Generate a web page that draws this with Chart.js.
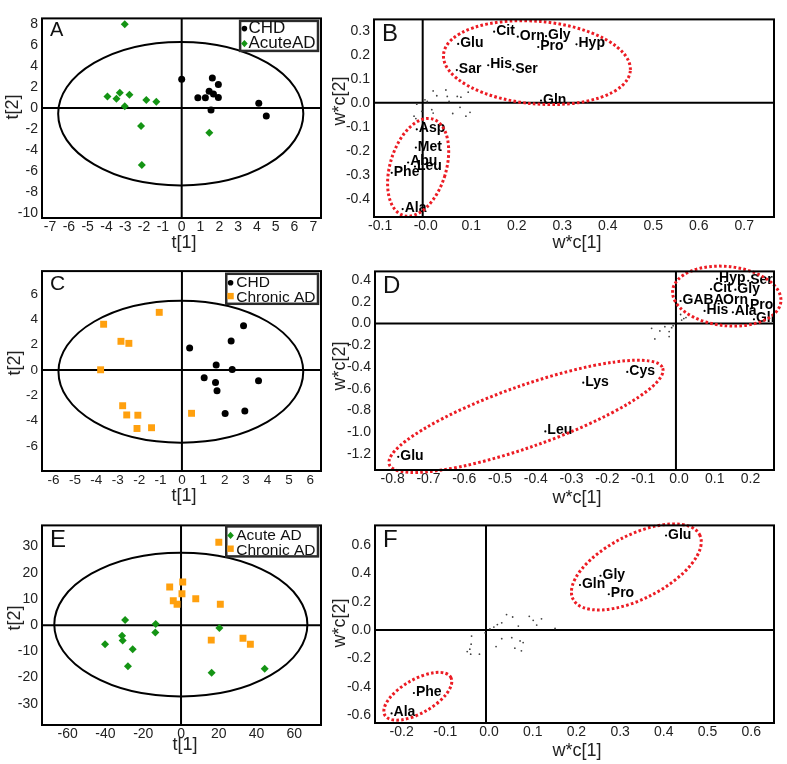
<!DOCTYPE html>
<html>
<head>
<meta charset="utf-8">
<script src="https://cdn.jsdelivr.net/npm/chart.js@4.4.0/dist/chart.umd.min.js"></script>
<style>
  body { margin: 0; background: #fff; width: 787px; height: 764px; overflow: hidden; position: relative; }
  canvas { position: absolute; }
</style>
</head>
<body>
<script>
// ---------- data ----------
// A: scores, CHD vs Acute AD
const A_CHD = [[0, 2.74], [1.63, 2.87], [1.95, 2.24], [1.46, 1.61], [1.69, 1.33], [1.95, 1.02], [0.86, 0.99], [1.26, 0.99], [1.56, -0.18], [4.1, 0.45], [4.5, -0.74]];
const A_ACUTE = [[-3.03, 7.97], [-3.95, 1.11], [-3.29, 1.46], [-3.47, 0.89], [-2.78, 1.27], [-3.03, 0.17], [-1.88, 0.76], [-1.35, 0.61], [-2.16, -1.71], [1.47, -2.34], [-2.12, -5.4]];
const A_T2 = [-0.05, -0.53, 6.52, 6.82];
const A_XTICKS = [-7, -6, -5, -4, -3, -2, -1, 0, 1, 2, 3, 4, 5, 6, 7];
const A_YTICKS = [8, 6, 4, 2, 0, -2, -4, -6, -8, -10];

// B: loadings for A
const B_NAMES = ['Glu', 'Cit', 'Orn', 'Gly', 'Pro', 'Hyp', 'Sar', 'His', 'Ser', 'Gln', 'Asp', 'Met', 'Abu', 'Leu', 'Phe', 'Ala'];
const B_X = [0.078, 0.157, 0.209, 0.271, 0.254, 0.338, 0.075, 0.144, 0.199, 0.260, -0.013, -0.015, -0.032, -0.017, -0.068, -0.044];
const B_Y = [0.245, 0.296, 0.275, 0.277, 0.232, 0.243, 0.136, 0.156, 0.138, 0.009, -0.111, -0.187, -0.249, -0.266, -0.292, -0.443];
const B_MINOR = [[0.023, 0.049], [0.031, 0.029], [0.051, 0.053], [0.054, 0.026], [0.076, 0.026], [0.084, 0.023], [0.100, 0.044], [0.005, 0.012], [0.010, 0.005], [-0.013, -0.006], [-0.002, -0.036], [-0.019, -0.056], [-0.015, -0.066], [0.020, -0.029], [0.023, -0.043], [0.066, -0.045], [0.082, -0.019], [0.095, -0.056], [0.104, -0.040], [0.058, 0.005]];
const B_GROUPS = [[0.251, 0.167, 0.206, 0.172, 5], [-0.010, -0.269, 0.0615, 0.21, 17]];
const B_XTICKS = [-0.1, 0, 0.1, 0.2, 0.3, 0.4, 0.5, 0.6, 0.7];
const B_XLABELS = ['-0.1', '-0.0', '0.1', '0.2', '0.3', '0.4', '0.5', '0.6', '0.7'];
const B_YTICKS = [0.3, 0.2, 0.1, 0, -0.1, -0.2, -0.3, -0.4];

// C: scores, CHD vs Chronic AD
const C_CHD = [[2.88, 3.50], [2.30, 2.29], [0.36, 1.75], [1.60, 0.39], [2.35, 0.05], [1.04, -0.60], [1.57, -0.99], [1.64, -1.64], [3.58, -0.84], [2.94, -3.23], [2.02, -3.44]];
const C_CHRONIC = [[-1.06, 4.56], [-3.66, 3.62], [-2.85, 2.27], [-2.48, 2.11], [-3.80, 0.02], [-2.77, -2.82], [-2.58, -3.55], [-2.06, -3.57], [-2.10, -4.62], [-1.42, -4.56], [0.45, -3.42]];
const C_T2 = [-0.05, -0.13, 5.72, 5.61];
const C_XTICKS = [-6, -5, -4, -3, -2, -1, 0, 1, 2, 3, 4, 5, 6];
const C_YTICKS = [6, 4, 2, 0, -2, -4, -6];

// D: loadings for C
const D_NAMES = ['Hyp', 'Ser', 'Cit', 'Gly', 'GABA', 'Orn', 'Pro', 'His', 'Ala', 'Gln', 'Cys', 'Lys', 'Leu', 'Glu'];
const D_X = [0.115, 0.202, 0.098, 0.166, 0.013, 0.126, 0.201, 0.080, 0.159, 0.218, -0.136, -0.259, -0.365, -0.776];
const D_Y = [0.41, 0.392, 0.315, 0.31, 0.206, 0.206, 0.161, 0.115, 0.102, 0.038, -0.445, -0.544, -0.992, -1.225];
const D_MINOR = [[-0.068, -0.045], [-0.045, -0.069], [-0.031, -0.030], [-0.019, -0.075], [-0.012, -0.039], [-0.059, -0.142], [-0.019, -0.121], [-0.008, -0.021], [0.016, 0.031], [0.022, 0.045], [0.013, 0.082], [0.028, 0.054]];
const D_GROUPS = [[-0.419, -0.853, 0.405, 0.281, -19.4], [0.142, 0.251, 0.152, 0.272, 6]];
const D_XTICKS = [-0.8, -0.7, -0.6, -0.5, -0.4, -0.3, -0.2, -0.1, 0, 0.1, 0.2];
const D_YTICKS = [0.4, 0.2, 0, -0.2, -0.4, -0.6, -0.8, -1.0, -1.2];

// E: scores, Acute AD vs Chronic AD
const E_ACUTE = [[-29.6, 2.0], [-13.4, 0.5], [-13.6, -2.8], [-31.2, -4.0], [-30.9, -5.8], [-40.2, -7.3], [-25.6, -9.2], [-28.1, -15.7], [20.3, -1.1], [16.2, -18.2], [44.3, -16.6]];
const E_CHRONIC = [[20.0, 31.7], [0.9, 16.5], [-6.0, 14.6], [0.5, 12.0], [-4.1, 9.3], [-2.1, 8.0], [7.8, 10.1], [20.8, 8.0], [16.0, -5.7], [32.8, -5.0], [36.7, -7.3]];
const E_T2 = [-0.1, 0.25, 67, 27.45];
const E_XTICKS = [-60, -40, -20, 0, 20, 40, 60];
const E_YTICKS = [30, 20, 10, 0, -10, -20, -30];

// F: loadings for E
const F_NAMES = ['Glu', 'Gly', 'Gln', 'Pro', 'Phe', 'Ala'];
const F_X = [0.412, 0.262, 0.215, 0.281, -0.165, -0.216];
const F_Y = [0.665, 0.382, 0.317, 0.252, -0.442, -0.586];
const F_MINOR = [[0.047, 0.109], [0.061, 0.092], [0.099, 0.097], [0.108, 0.069], [0.127, 0.079], [0.116, 0.035], [0.074, 0.028], [0.036, 0.051], [0.026, 0.039], [0.018, 0.021], [0.009, 0.009], [0.158, 0.012], [-0.033, -0.042], [-0.034, -0.099], [-0.037, -0.134], [-0.043, -0.151], [-0.035, -0.169], [-0.015, -0.169], [0.023, -0.116], [0.036, -0.060], [0.059, -0.053], [0.066, -0.127], [0.078, -0.076], [0.085, -0.088], [0.081, -0.146], [-0.002, -0.019]];
const F_GROUPS = [[0.344, 0.444, 0.1625, 0.225, -27], [-0.156, -0.465, 0.087, 0.118, -30]];
const F_XTICKS = [-0.2, -0.1, 0, 0.1, 0.2, 0.3, 0.4, 0.5, 0.6];
const F_YTICKS = [0.6, 0.4, 0.2, 0, -0.2, -0.4, -0.6];

// ---------- styles ----------
const GREEN = '#149414';
const ORANGE = '#ffa00e';
const RED = '#ec1c24';
const SANS = '"Liberation Sans", Arial, sans-serif';
const NARROW = '"Liberation Sans Narrow", "Liberation Sans", Arial, sans-serif';

const toPts = arr => arr.map(p => ({ x: p[0], y: p[1] }));
const zipPts = (xs, ys) => xs.map((v, i) => ({ x: v, y: ys[i] }));
const dec = ticks => ticks.map(v => v.toFixed(1));

function ellipsePath(ctx, xs, ys, e) {
    const [cx, cy, a, b, rot] = e;
    const px = xs.getPixelForValue(cx), py = ys.getPixelForValue(cy);
    const rx = Math.abs(xs.getPixelForValue(cx + a) - px);
    const ry = Math.abs(ys.getPixelForValue(cy + b) - py);
    ctx.beginPath();
    ctx.ellipse(px, py, rx, ry, (rot || 0) * Math.PI / 180, 0, Math.PI * 2);
}

function drawMarker(ctx, style, x, y, color) {
    ctx.fillStyle = color;
    ctx.beginPath();
    if (style === 'circle') ctx.arc(x, y, 2.8, 0, Math.PI * 2);
    else if (style === 'rectRot') { ctx.moveTo(x - 3.3, y); ctx.lineTo(x, y - 3.6); ctx.lineTo(x + 3.3, y); ctx.lineTo(x, y + 3.6); ctx.closePath(); }
    else ctx.rect(x - 3.2, y - 3.2, 6.4, 6.4);
    ctx.fill();
}

const decor = {
    id: 'decor',
    beforeDatasetsDraw(chart, _args, o) {
        const { ctx, chartArea: ca, scales: { x, y } } = chart;
        ctx.save();
        ctx.strokeStyle = '#000';
        ctx.lineWidth = 2;
        if (o.t2) { ellipsePath(ctx, x, y, o.t2); ctx.stroke(); }
        const x0 = x.getPixelForValue(0), y0 = y.getPixelForValue(0);
        ctx.beginPath();
        ctx.moveTo(x0, ca.top); ctx.lineTo(x0, ca.bottom);
        ctx.moveTo(ca.left, y0); ctx.lineTo(ca.right, y0);
        ctx.stroke();
        ctx.restore();
    },
    afterDatasetsDraw(chart, _args, o) {
        const { ctx, chartArea: ca, scales: { x, y } } = chart;
        const w = ca.right - ca.left, h = ca.bottom - ca.top;
        ctx.save();
        // variable names next to loading points
        if (o.names) {
            const meta = chart.getDatasetMeta(0);
            ctx.save();
            ctx.beginPath(); ctx.rect(ca.left, ca.top, w, h); ctx.clip();
            ctx.font = 'bold 14px ' + SANS;
            ctx.fillStyle = '#000';
            ctx.textBaseline = 'alphabetic';
            meta.data.forEach((pt, i) => ctx.fillText(o.names[i], pt.x + 2, pt.y + 3));
            ctx.restore();
        }
        // red dotted groupings
        if (o.groups) {
            ctx.strokeStyle = RED;
            ctx.lineWidth = 3;
            ctx.setLineDash([2.6, 2.3]);
            o.groups.forEach(g => { ellipsePath(ctx, x, y, g); ctx.stroke(); });
            ctx.setLineDash([]);
        }
        // frame
        ctx.strokeStyle = '#000';
        ctx.lineWidth = 2;
        ctx.strokeRect(ca.left, ca.top, w, h);
        // panel letter
        ctx.fillStyle = '#111';
        ctx.textBaseline = 'alphabetic';
        ctx.textAlign = 'left';
        ctx.font = o.letterSize + 'px ' + SANS;
        ctx.fillText(o.letter, ca.left + 8, ca.top + o.letterSize * 0.9);
        // legend box
        if (o.legend) {
            const lg = o.legend;
            ctx.font = lg.size + 'px ' + SANS;
            const tw = Math.max(...lg.items.map(it => ctx.measureText(it.text).width));
            const right = ca.right - 3, top = ca.top + lg.dy;
            const textL = right - 2.5 - tw;
            const mx = textL - lg.gap;
            const left = mx - 4.3;
            ctx.lineWidth = 2.5;
            ctx.strokeStyle = '#2b2b2b';
            ctx.strokeRect(left, top, right - left, 30);
            lg.items.forEach((it, i) => {
                const base = top + lg.base + i * 15;
                drawMarker(ctx, it.style, mx, base - (it.style === 'rect' ? 6 : 4.3), it.color);
                ctx.fillStyle = '#111';
                ctx.fillText(it.text, textL, base);
            });
        }
        // axis titles (page coordinates)
        ctx.font = '18px ' + SANS;
        ctx.fillStyle = '#222';
        ctx.textAlign = 'center';
        ctx.textBaseline = 'middle';
        ctx.fillText(o.xTitle, o.xt[0] - o.ox, o.xt[1] - o.oy);
        ctx.translate(o.yt[0] - o.ox, o.yt[1] - o.oy);
        ctx.rotate(-Math.PI / 2);
        ctx.fillText(o.yTitle, 0, 0);
        ctx.restore();
    }
};

function makePanel(box, cfg) {
    const cv = document.createElement('canvas');
    const top = box.t - 10;
    const w = box.r + 12 - box.cl, h = box.b - box.t + 10 + 38;
    cv.width = w; cv.height = h;
    cv.style.left = box.cl + 'px'; cv.style.top = top + 'px';
    cv.style.width = w + 'px'; cv.style.height = h + 'px';
    document.body.appendChild(cv);

    const axis = (a, isX) => ({
        type: 'linear',
        min: a.min, max: a.max,
        grid: { display: false, drawTicks: false },
        border: { display: false },
        afterFit: s => { if (isX) s.height = 38; else s.width = box.l - box.cl; },
        afterBuildTicks: s => { s.ticks = a.ticks.map(v => ({ value: v })); },
        ticks: {
            autoSkip: false, maxRotation: 0, minRotation: 0,
            padding: isX ? 1 : 4,
            labelOffset: isX ? (cfg.labelOffset || 0) : 0,
            color: '#222',
            font: { family: cfg.tickFamily || SANS, size: cfg.tickSize || 14 },
            callback: (v, i) => a.labels ? a.labels[i] : String(a.ticks[i])
        }
    });

    new Chart(cv, {
        type: 'scatter',
        data: { datasets: cfg.datasets },
        options: {
            responsive: false,
            devicePixelRatio: 1,
            animation: false,
            layout: { padding: { top: 10, right: 12, left: 0, bottom: 0 } },
            plugins: {
                legend: { display: false },
                tooltip: { enabled: false },
                decor: Object.assign({ ox: box.cl, oy: top }, cfg.decor)
            },
            scales: { x: axis(cfg.x, true), y: axis(cfg.y, false) }
        },
        plugins: [decor]
    });
}

const scoreSet = (pts, style, color, r) => ({
    data: toPts(pts), pointStyle: style, pointRadius: r, pointBackgroundColor: color,
    pointBorderWidth: 0, showLine: false
});
const loadSets = (xs, ys, minor) => [
    { data: zipPts(xs, ys), pointRadius: 1.1, pointBackgroundColor: '#000', pointBorderWidth: 0 },
    { data: toPts(minor), pointRadius: 0.9, pointBackgroundColor: '#444', pointBorderWidth: 0 }
];

// A
makePanel({ l: 42, t: 16, r: 321, b: 218, cl: 0 }, {
    tickFamily: NARROW, tickSize: 14,
    x: { min: -7.43, max: 7.41, ticks: A_XTICKS },
    y: { min: -10.45, max: 8.53, ticks: A_YTICKS },
    datasets: [scoreSet(A_CHD, 'circle', '#000', 3.5), scoreSet(A_ACUTE, 'rectRot', GREEN, 4)],
    decor: {
        t2: A_T2, letter: 'A', letterSize: 20, xTitle: 't[1]', yTitle: 't[2]', xt: [184, 243.5], yt: [13, 107],
        legend: { size: 17, dy: 2.5, base: 12, gap: 4, items: [
            { text: 'CHD', style: 'circle', color: '#000' },
            { text: 'AcuteAD', style: 'rectRot', color: GREEN }] }
    }
});

// B
makePanel({ l: 374, t: 17, r: 774, b: 217, cl: 326 }, {
    labelOffset: 3,
    x: { min: -0.107, max: 0.772, ticks: B_XTICKS, labels: B_XLABELS },
    y: { min: -0.476, max: 0.347, ticks: B_YTICKS, labels: dec(B_YTICKS) },
    datasets: loadSets(B_X, B_Y, B_MINOR),
    decor: {
        names: B_NAMES, groups: B_GROUPS, letter: 'B', letterSize: 24,
        xTitle: 'w*c[1]', yTitle: 'w*c[2]', xt: [577, 243], yt: [340, 101]
    }
});

// C
makePanel({ l: 42, t: 269, r: 321, b: 471, cl: 0 }, {
    tickSize: 13.5,
    x: { min: -6.54, max: 6.50, ticks: C_XTICKS },
    y: { min: -7.98, max: 7.82, ticks: C_YTICKS },
    datasets: [scoreSet(C_CHD, 'circle', '#000', 3.5), scoreSet(C_CHRONIC, 'rect', ORANGE, 4.9)],
    decor: {
        t2: C_T2, letter: 'C', letterSize: 21, xTitle: 't[1]', yTitle: 't[2]', xt: [184, 496], yt: [15, 363],
        legend: { size: 15.5, dy: 2.7, base: 13.3, gap: 5.7, items: [
            { text: 'CHD', style: 'circle', color: '#000' },
            { text: 'Chronic AD', style: 'rect', color: ORANGE }] }
    }
});

// D
makePanel({ l: 375, t: 269, r: 774, b: 470, cl: 326 }, {
    labelOffset: 3,
    x: { min: -0.841, max: 0.274, ticks: D_XTICKS, labels: dec(D_XTICKS) },
    y: { min: -1.346, max: 0.478, ticks: D_YTICKS, labels: dec(D_YTICKS) },
    datasets: loadSets(D_X, D_Y, D_MINOR),
    decor: {
        names: D_NAMES, groups: D_GROUPS, letter: 'D', letterSize: 24,
        xTitle: 'w*c[1]', yTitle: 'w*c[2]', xt: [577, 498], yt: [340, 366]
    }
});

// E
makePanel({ l: 42, t: 523, r: 321, b: 725, cl: 0 }, {
    tickSize: 14,
    x: { min: -73.6, max: 74.1, ticks: E_XTICKS },
    y: { min: -38.1, max: 38.1, ticks: E_YTICKS },
    datasets: [scoreSet(E_ACUTE, 'rectRot', GREEN, 4), scoreSet(E_CHRONIC, 'rect', ORANGE, 4.9)],
    decor: {
        t2: E_T2, letter: 'E', letterSize: 24, xTitle: 't[1]', yTitle: 't[2]', xt: [185, 745.5], yt: [15, 618],
        legend: { size: 15.5, dy: 1, base: 13.3, gap: 5.7, items: [
            { text: 'Acute AD', style: 'rectRot', color: GREEN },
            { text: 'Chronic AD', style: 'rect', color: ORANGE }] }
    }
});

// F
makePanel({ l: 375, t: 523, r: 774, b: 723, cl: 326 }, {
    labelOffset: 3,
    x: { min: -0.254, max: 0.659, ticks: F_XTICKS, labels: dec(F_XTICKS) },
    y: { min: -0.653, max: 0.736, ticks: F_YTICKS, labels: dec(F_YTICKS) },
    datasets: loadSets(F_X, F_Y, F_MINOR),
    decor: {
        names: F_NAMES, groups: F_GROUPS, letter: 'F', letterSize: 24,
        xTitle: 'w*c[1]', yTitle: 'w*c[2]', xt: [577, 751.5], yt: [340, 623]
    }
});
</script>
</body>
</html>
